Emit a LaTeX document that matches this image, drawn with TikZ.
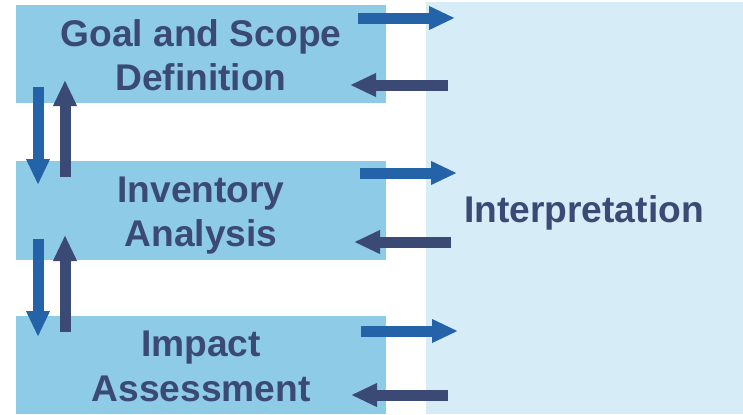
\documentclass[tikz,border=0pt]{standalone}
\usepackage{fontspec}
\setmainfont{Liberation Sans}
\usetikzlibrary{arrows.meta}
\definecolor{boxblue}{RGB}{142,203,230}
\definecolor{panelblue}{RGB}{214,236,246}
\definecolor{navy}{RGB}{59,73,117}
\definecolor{arrowblue}{RGB}{37,99,168}
\tikzset{
  stage/.style={fill=boxblue, draw=none},
  label/.style={anchor=base, inner sep=0pt, text=navy, font=\bfseries\fontsize{37.3pt}{44pt}\selectfont},
  fwd/.style={draw=arrowblue, line width=11bp, -{Triangle[width=22bp,length=26bp]}, arrowblue},
  bwd/.style={draw=navy, line width=11bp, -{Triangle[width=22bp,length=26bp]}, navy},
}
\begin{document}
\begin{tikzpicture}[x=1bp,y=-1bp]
\useasboundingbox (0,0) rectangle (743,414);
\fill[panelblue] (426,2) rectangle (743,414);
\fill[stage] (16,5) rectangle (386,103);
\fill[stage] (16,161) rectangle (386,260);
\fill[stage] (16,316) rectangle (386,414);
\node[label] (t1a) at (201,46) {Goal and Scope};
\node[label] (t1b) at (201,90) {Definition};
\node[label] (t2a) at (201,202.7) {Inventory};
\node[label] (t2b) at (201,246.7) {Analysis};
\node[label] (t3a) at (201,356.7) {Impact};
\node[label] (t3b) at (201,401.7) {Assessment};
\node[label] (t4) at (584,222.7) {Interpretation};
% horizontal arrows
\coordinate (r1s) at (358,18);  \coordinate (r1e) at (455,18);
\coordinate (l1s) at (448,85);  \coordinate (l1e) at (350,85);
\coordinate (r2s) at (360,173); \coordinate (r2e) at (457,173);
\coordinate (l2s) at (451,242); \coordinate (l2e) at (354,242);
\coordinate (r3s) at (361,331); \coordinate (r3e) at (458,331);
\coordinate (l3s) at (448,395); \coordinate (l3e) at (351,395);
\draw[fwd] (r1s) -- (r1e);
\draw[bwd] (l1s) -- (l1e);
\draw[fwd] (r2s) -- (r2e);
\draw[bwd] (l2s) -- (l2e);
\draw[fwd] (r3s) -- (r3e);
\draw[bwd] (l3s) -- (l3e);
% vertical arrows
\coordinate (d1s) at (38,87);  \coordinate (d1e) at (38,185);
\coordinate (u1s) at (65,177); \coordinate (u1e) at (65,80);
\coordinate (d2s) at (38,239); \coordinate (d2e) at (38,337);
\coordinate (u2s) at (65,332); \coordinate (u2e) at (65,235);
\draw[fwd] (d1s) -- (d1e);
\draw[bwd] (u1s) -- (u1e);
\draw[fwd] (d2s) -- (d2e);
\draw[bwd] (u2s) -- (u2e);
\end{tikzpicture}
\end{document}
